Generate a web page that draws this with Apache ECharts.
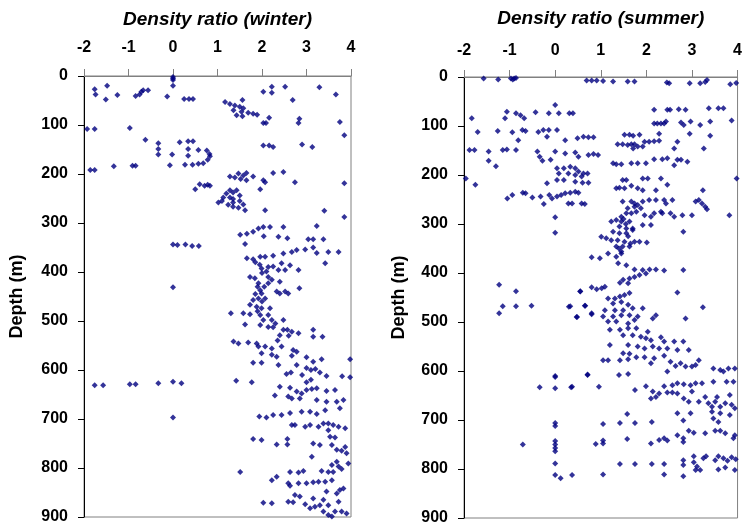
<!DOCTYPE html>
<html><head><meta charset="utf-8">
<script src="https://cdn.jsdelivr.net/npm/echarts@6/dist/echarts.min.js"></script>
<style>html,body{margin:0;padding:0;background:#fff}#c{width:745px;height:526px}</style>
</head><body><div id="c"></div><script>
const panelTitles = ['Density ratio (winter)', 'Density ratio (summer)'];
const depthTitle = 'Depth (m)';
const ratioRange = [-2, 4];
const depthRange = [0, 900];

// [density ratio, depth (m)]
const winterPoints = [
[0,2],[0,5],[0,8],[0,20],
[-1.76,27],[-1.74,38],[-1.48,20],[-1.51,48],[-1.25,39],[-0.84,41],[-0.75,38],[-0.71,32],[-0.67,29],[-0.56,29],[-0.13,42],[0.25,47],[0.36,47],[0.45,47],
[2.03,32],[2.22,22],[2.22,34],[2.52,22],[2.69,49],[3.29,23],[3.66,38],
[1.17,53],[1.28,57],[1.39,60],[1.5,63],[1.58,66],[1.54,73],[1.43,80],[1.56,82],[1.69,75],[1.8,77],[1.89,79],[1.56,49],[1.36,70],
[2.03,96],[2.09,96],[2.16,85],[2.84,87],[2.82,96],[3.75,94],[3.85,121],
[-1.93,108],[-1.76,108],[-0.97,106],
[-0.62,130],[-0.33,137],[-0.33,149],[-0.33,160],[-0.02,160],[0.15,135],[0.34,133],[0.45,133],[0.34,149],[0.57,151],[0.34,163],[0.76,152],[0.82,159],[0.83,164],[0.78,171],[0.68,178],[0.57,179],[0.44,181],[0.27,181],[-0.07,182],[-1.33,184],[-0.91,183],[-0.84,183],[-1.86,192],[-1.76,192],
[2.03,142],[2.16,142],[2.25,145],[2.9,140],[3.13,145],
[1.28,205],[1.39,207],[1.47,199],[1.58,203],[1.65,198],[1.52,210],[1.65,213],[1.8,205],[2.03,213],[2.07,217],[2.25,198],[2.48,196],[2.74,217],[3.85,219],
[0.6,221],[0.71,224],[0.78,222],[0.83,224],[0.5,231],[1.96,231],
[1.02,258],[1.1,255],[1.13,248],[1.2,240],[1.28,233],[1.35,238],[1.43,233],[1.28,248],[1.35,258],[1.24,263],[1.35,267],[1.47,269],[1.5,255],[1.58,262],[1.62,274],[2.07,274],[1.35,251],[1.5,244],
[3.4,275],[3.85,288],
[0,344],[0.1,345],[0.28,344],[0.43,347],[0.58,347],[0,431],
[1.51,324],[1.66,322],[1.80,318],[1.92,311],[2.03,308],[2.18,308],[2.48,308],[3.23,306],[2.04,327],[2.37,328],[2.57,331],[1.62,343],[3.04,333],[3.15,333],[3.38,333],[2.67,359],[2.78,355],[2.97,354],[3.15,350],[3.23,361],[3.49,359],[3.72,359],[2.48,362],[2.25,367],[1.66,372],[1.80,374],[1.96,369],[2.07,369],[3.42,382],[2.44,382],[2.63,386],[1.99,393],[2.14,390],[2.25,389],[2.37,396],[2.52,396],[2.82,396],[2.10,399],[2.14,410],[1.73,410],[1.84,413],[2.22,416],[1.92,423],[2.14,423],[2.40,420],[2.52,440],[1.96,437],[1.99,444],[2.33,440],[2.84,433],[1.92,454],[1.80,457],[2.07,454],[2.40,444],[2.59,444],[1.73,467],[1.88,471],[1.99,474],[2.18,474],[1.30,484],[1.58,484],[1.73,486],[1.96,488],[2.14,488],[2.03,498],[2.22,498],[2.48,498],[1.62,507],[1.96,508],[2.14,512],[2.25,513],[2.48,518],[2.57,518],[2.40,529],[2.67,522],[2.82,525],[3.15,518],[3.15,532],[3.36,532],[1.36,542],[1.47,546],[1.69,544],[1.88,546],[1.92,552],[2.07,552],[2.22,556],[2.44,552],[1.99,566],[2.22,569],[2.33,573],[2.70,559],[2.67,571],[2.78,563],[3.0,574],[3.15,583],[1.80,585],[1.99,585],[2.37,590],[2.78,590],[3.34,578],[3.98,578],
[1.85,380],[1.95,385],[2.0,402],[1.9,430],[2.05,430],[1.85,445],[2.0,460],[1.9,480],[2.3,505],[2.6,530],[2.35,540],
[-1.76,631],[-1.57,631],[-0.97,629],[-0.84,629],[-0.33,627],[0,624],[0.19,627],[0,697],
[3.0,596],[3.1,600],[3.2,598],[3.3,605],[2.9,610],[3.45,612],[3.1,620],[2.55,608],[2.65,605],[3.0,625],[3.8,613],[3.98,615],
[1.42,622],[1.77,625],[2.40,634],[2.63,636],[2.78,644],[2.89,648],[3.0,641],[3.12,639],[3.23,637],[3.45,643],[3.64,641],[2.29,652],[2.59,654],[2.67,658],[2.85,658],[3.23,661],[3.45,665],[3.68,665],[3.83,661],[2.89,685],[3.08,685],[3.23,690],[3.42,682],[3.75,678],[1.94,695],[2.10,697],[2.25,692],[2.44,692],[2.63,688],[2.67,712],[2.74,712],[2.97,716],[3.08,712],[3.27,716],[3.38,709],[3.49,709],[3.60,712],[3.72,716],[3.87,719],[3.49,723],[1.80,741],[1.99,743],[2.33,752],[2.57,741],[2.57,752],[3.15,750],[3.30,753],[3.53,736],[3.64,738],[3.57,753],[3.68,763],[3.79,765],[3.87,757],[3.90,770],[3.12,777],[3.57,794],[3.68,787],[3.72,797],[3.94,791],[1.51,808],[2.63,808],[2.82,809],[2.93,806],[3.34,806],[3.49,808],[3.60,808],[3.79,802],[2.22,825],[2.33,818],[2.59,831],[2.63,836],[2.82,831],[3.0,831],[3.15,829],[3.27,828],[3.42,828],[3.57,825],[3.75,845],[3.83,842],[3.68,852],[3.45,848],[2.74,855],[2.85,858],[3.15,862],[3.38,865],[3.30,876],[3.49,876],[3.72,869],[2.03,871],[2.22,872],[2.59,869],[2.70,870],[2.97,874],[3.08,882],[3.19,879],[3.38,889],[3.49,896],[3.57,899],[3.64,889],[3.79,889],[3.90,893]
];

const summerPoints = [
[-1.57,3],[-1.25,5],[-0.97,3],[-0.93,5],[-0.9,3],[-0.86,2],[0.69,7],[0.8,7],[0.91,7],[1.05,8],[1.27,9],[1.59,9],[1.74,9],[2.45,11],[2.5,13],[2.95,13],[3.18,13],[3.29,10],[3.33,6],[3.84,15],[3.97,12],
[0.0,57],[-1.06,71],[-1.1,84],[-0.86,74],[-0.76,78],[-0.68,84],[-0.43,72],[-0.14,74],[0.08,74],[0.31,74],[0.39,74],[-1.83,84],[-1.7,112],[-1.26,110],[-0.94,113],[-0.72,108],[-0.65,110],[-0.81,129],[-0.37,112],[-0.26,108],[-0.14,108],[0.04,108],[-0.18,122],[0.22,129],[0.49,125],[0.62,122],[0.73,123],[0.84,123],
[-1.88,149],[-1.77,149],[-1.15,149],[-1.06,148],[-0.86,149],[-1.46,152],[-1.46,171],[-1.3,182],[-0.39,152],[-0.34,163],[-0.28,171],[-0.1,169],[0.0,152],[0.22,156],[0.44,154],[0.51,163],[0.73,159],[0.84,157],[0.94,159],
[0.04,186],[0.19,186],[0.33,183],[0.44,186],[0.51,193],[0.62,197],[0.71,197],[0.58,203],[0.44,200],[0.29,197],[0.08,197],[0.19,210],[0.44,214],[0.6,216],[0.73,216],[-0.18,217],[0.04,210],[-1.96,207],[-1.75,220],
[-1.05,248],[-0.94,241],[-0.71,236],[-0.65,237],[-0.5,246],[-0.32,244],[-0.25,259],[-0.13,241],[-0.07,248],[0.04,244],[0.13,241],[0.22,237],[0.33,236],[0.44,234],[0.51,236],[0.29,258],[0.37,258],[0.58,258],[0.65,259],[0.0,286],[0.0,318],
[2.17,67],[2.46,67],[2.52,67],[2.71,66],[2.86,67],[3.37,64],[3.58,64],[3.69,64],[2.17,95],[2.24,95],[2.32,95],[2.39,95],[2.43,91],[2.76,93],[2.82,98],[2.97,91],[3.18,98],[3.4,91],[3.87,89],[3.4,120],[2.95,116],[2.28,116],[2.68,132],[3.26,146],[2.61,146],[2.46,166],[2.61,180],[2.68,169],[2.76,169],[2.9,173],[3.98,207],[3.82,282],
[1.52,118],[1.63,118],[1.71,120],[1.85,118],[1.37,137],[1.48,137],[1.59,139],[1.67,137],[1.74,137],[1.81,142],[1.92,142],[1.96,132],[2.06,132],[2.17,131],[2.28,130],[1.71,146],
[1.27,176],[1.34,178],[1.45,178],[1.67,176],[1.81,176],[1.99,176],[2.17,168],[2.35,168],
[1.48,210],[1.56,210],[1.34,227],[1.41,226],[1.52,227],[1.67,222],[1.81,227],[1.92,231],[1.92,207],[2.03,207],[2.32,207],[2.46,220],[2.21,231],
[1.48,254],[1.67,254],[1.74,258],[1.92,254],[2.06,251],[2.21,251],[2.39,251],[2.57,251],[2.43,258],[3.08,254],[3.15,251],[3.22,258],[3.29,265],[3.33,270],[3.24,231],
[1.59,268],[1.74,265],[1.81,261],[1.88,268],[1.56,278],[1.67,278],[1.78,275],[1.96,282],[2.1,285],[2.17,278],[2.32,275],[2.35,278],[2.53,278],[2.61,285],[2.79,282],[3.0,282],[1.23,295],[1.34,292],[1.45,295],[1.63,295],[1.41,305],[1.56,309],[1.7,309],[1.92,302],[2.1,302],[1.27,316],[1.41,319],[1.56,319],[1.7,312],[2.81,316],[1.01,326],[1.12,329],[1.23,333],[1.37,333],[1.52,336],[1.74,336],[1.85,336],[2.01,338],[1.34,346],[1.48,346],[1.63,346],[1.45,356],
[1.45,285],[1.55,300],[1.6,325],[1.5,290],[1.65,340],[1.4,350],
[0.80,368],[0.98,370],[1.16,360],[1.34,367],[1.45,360],[1.38,380],[1.56,384],[1.74,393],[1.92,394],[2.07,393],[2.21,393],[2.39,395],[2.81,394],[1.49,414],[1.63,411],[1.74,408],[1.85,404],[1.99,401],[1.42,420],[1.60,421],[0.80,429],[0.91,433],[1.02,431],[1.09,428],[0.55,438],[2.68,440],[1.16,452],[1.31,452],[1.42,448],[1.52,445],[1.63,441],[1.27,462],[1.45,459],[1.60,465],[0.30,469],[0.66,467],[1.09,476],[1.31,476],[1.49,476],[1.70,472],[1.92,472],[3.24,470],[0.48,490],[0.80,484],[1.05,489],[1.27,489],[1.45,486],[1.63,486],[1.81,489],[2.14,493],[2.21,486],[2.86,493],[1.16,499],[1.34,499],[1.60,503],[1.74,496],[1.20,516],[1.42,516],[1.60,513],[1.78,513],[1.49,527],[1.70,527],[1.88,530],[2.03,520],[1.99,533],[2.10,537],[2.32,531],[2.39,540],[2.61,540],[2.81,540],[1.20,547],[1.60,547],[1.81,550],[1.96,554],[2.14,550],[2.28,554],[2.46,554],[2.68,557],[2.93,557],[1.49,564],[1.63,565],[1.78,572],[1.96,572],[2.17,574],[2.39,569],[1.05,578],[1.16,578],[1.42,578],[1.60,576],[2.10,584],[2.53,581],[2.75,584],[2.64,590],[2.86,591],[3.0,591],[3.08,588],[3.15,578],[3.47,595],[3.62,598],[3.69,601],[3.80,595],[3.94,595],[1.40,608],[1.60,606],[2.46,601],[0.71,608],
[0.37,632],[0.96,632],[1.75,639],[1.99,631],[2.14,642],[2.21,653],[2.10,656],[2.28,646],[2.39,631],[2.46,644],[2.57,644],[2.68,646],[2.57,629],[2.68,625],[2.82,627],[2.97,629],[3.08,625],[3.22,625],[3.47,622],[3.76,622],[3.91,622],[2.82,656],[2.93,663],[3.0,642],[3.15,663],[3.29,653],[3.36,666],[3.44,673],[3.51,663],[3.55,653],[3.62,673],[3.73,666],[3.83,649],[3.87,669],[3.94,676],[3.44,683],[3.62,686],[3.47,697],[3.58,704],[3.83,690],[2.68,686],[2.97,686],[2.81,701],[1.58,688],[1.05,708],[1.42,706],[1.75,706],[2.12,704],[1.58,739],[0.89,749],[1.05,748],[1.05,742],[2.10,748],[2.28,741],[2.39,737],[2.46,742],[2.68,731],[2.81,737],[2.81,745],[2.93,722],[3.04,726],[3.29,727],[3.51,722],[3.62,722],[3.73,727],[3.91,737],[3.94,731],[1.42,790],[1.75,790],[2.12,790],[2.39,790],[2.81,782],[2.81,792],[3.04,774],[3.04,786],[3.11,795],[3.18,802],[3.25,778],[3.31,774],[3.51,782],[3.58,774],[3.69,778],[3.78,783],[3.87,776],[3.96,780],[3.58,801],[3.73,797],[3.94,802],[3.08,802],[0.12,819],[0.37,812],[1.05,811],[2.39,811],[2.81,815],
[0,610],[0,612],[0,635],[-0.34,633],[0.35,633],[0.71,607],[0,706],[0,712],[0,743],[0,750],[0,757],[0,764],[0,789],[0,812],[-0.71,750],
[-1.23,424],[-1.15,468],[-0.86,437],[-0.86,468],[-0.52,467],[-1.23,482],[0.33,468],[0.47,490],[0.65,467],[0.8,482],[0.55,437]
];

const FONT = '"Liberation Sans", Arial, sans-serif';
const grids = [
  {left: 84, top: 76, width: 267, height: 441},
  {left: 464, top: 77, width: 277, height: 441}
];
const xNameGaps = [47, 49];
const xLabelMargins = [20, 18];
const yNameGaps = [58, 56];
const panels = [winterPoints, summerPoints];

const option = {
  animation: false,
  backgroundColor: '#fff',
  grid: grids.map(g => Object.assign({show: true, borderColor: '#808080', borderWidth: 1, backgroundColor: 'transparent'}, g)),
  xAxis: panelTitles.map((t, i) => ({
    type: 'value', gridIndex: i, position: 'top',
    min: ratioRange[0], max: ratioRange[1], interval: 1,
    name: t, nameLocation: 'middle', nameGap: xNameGaps[i], nameMoveOverlap: false,
    nameTextStyle: {fontFamily: FONT, fontWeight: 'bold', fontStyle: 'italic', fontSize: 19, color: '#000'},
    axisLine: {show: true, onZero: false, lineStyle: {color: '#808080', width: 1}},
    axisTick: {show: true, length: 7, lineStyle: {color: '#808080'}},
    axisLabel: {fontFamily: FONT, fontWeight: 'bold', fontSize: 16, color: '#000', margin: xLabelMargins[i]},
    splitLine: {show: false}
  })),
  yAxis: panelTitles.map((t, i) => ({
    type: 'value', gridIndex: i, inverse: true,
    min: depthRange[0], max: depthRange[1], interval: 100,
    name: depthTitle, nameLocation: 'middle', nameGap: yNameGaps[i], nameRotate: 90, nameMoveOverlap: false,
    nameTextStyle: {fontFamily: FONT, fontWeight: 'bold', fontSize: 18, color: '#000'},
    axisLine: {show: true, onZero: false, lineStyle: {color: '#000', width: 1}},
    axisTick: {show: true, length: 6, lineStyle: {color: '#000'}},
    axisLabel: {fontFamily: FONT, fontWeight: 'bold', fontSize: 16, color: '#000', margin: 16},
    splitLine: {show: false}
  })),
  series: panels.map((d, i) => ({
    type: 'scatter', xAxisIndex: i, yAxisIndex: i,
    data: d, symbol: 'diamond', symbolSize: 6,
    itemStyle: {color: '#000080'}, silent: true
  }))
};
echarts.init(document.getElementById('c'), null, {renderer: 'canvas'}).setOption(option);
</script></body></html>
